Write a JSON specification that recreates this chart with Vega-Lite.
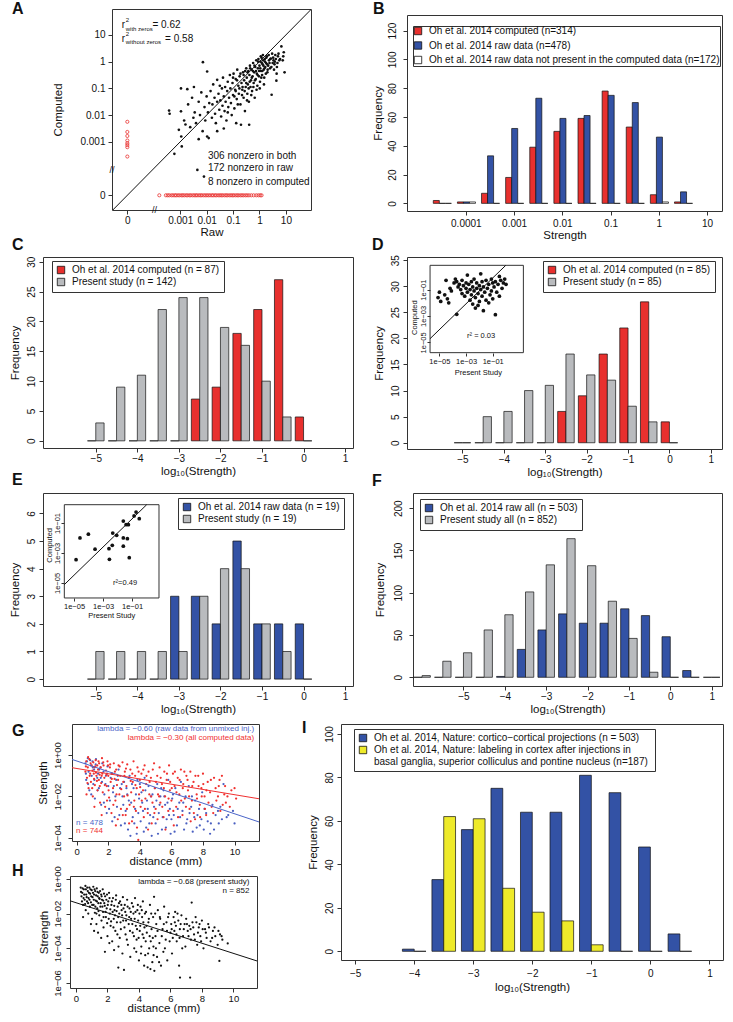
{
"$schema":"https://vega.github.io/schema/vega-lite/v6.json",
"background":"white",
"padding":{"left":0,"top":0,"right":5,"bottom":5},
"bounds":"flush",
"spacing":0,
"resolve":{"scale":{"color":"independent"},"legend":{"color":"independent"}},
"config":{
 "font":"Liberation Sans",
 "view":{"stroke":"#333","strokeWidth":1},
 "axis":{"domain":false,"grid":false,"tickColor":"#333","tickSize":4,"labelFontSize":10,"labelColor":"#111","labelPadding":1,"labelOverlap":false,"labelFlush":false,"titleFontSize":11.5,"titleFontWeight":"normal","titleColor":"#111"},
 "axisX":{"titlePadding":2},
 "axisY":{"labelAngle":270,"labelAlign":"center","labelBaseline":"bottom","labelPadding":3,"titlePadding":5},
 "title":{"fontSize":16,"fontWeight":"bold","anchor":"start","frame":"group","offset":0,"baseline":"alphabetic","color":"#111"},
 "legend":{"orient":"none","symbolType":"square","symbolSize":55,"symbolStrokeColor":"#111","symbolStrokeWidth":0.8,"labelFontSize":10,"labelColor":"#111","labelLimit":0,"rowPadding":0,"strokeColor":"#333","padding":4,"fillColor":"#fff","labelOffset":6}
},
"datasets":{
"aK":[{"x":-3.42,"y":-1.83},{"x":-3.4,"y":-1.95},{"x":-3.22,"y":-3.45},{"x":-3.05,"y":-2.55},{"x":-2.97,"y":-1.0},{"x":-2.97,"y":-1.86},{"x":-2.96,"y":-2.8},{"x":-2.94,"y":-3.17},{"x":-2.85,"y":-2.2},{"x":-2.8,"y":-2.35},{"x":-2.73,"y":-1.03},{"x":-2.7,"y":-1.6},{"x":-2.62,"y":-2.45},{"x":-2.55,"y":-1.35},{"x":-2.5,"y":-2.1},
{"x":-2.48,"y":-0.95},{"x":-2.45,"y":-1.9},{"x":-2.4,"y":-2.3},{"x":-2.35,"y":-4.05},{"x":-2.3,"y":-1.5},{"x":-2.25,"y":-2.0},{"x":-2.2,"y":-1.15},{"x":-2.15,"y":-2.6},{"x":-2.14,"y":-0.02},{"x":-2.1,"y":-4.3},{"x":-2.08,"y":-1.7},{"x":-2.05,"y":-2.2},{"x":-2.0,"y":-1.3},{"x":-1.98,"y":-0.37},{"x":-1.98,"y":-2.8},{"x":-1.95,"y":-1.9},{"x":-1.92,"y":-2.86},{"x":-1.9,"y":-1.55},{"x":-1.85,"y":-1.1},{"x":-1.8,"y":-2.1},{"x":-1.78,"y":-1.6},{"x":-1.75,"y":-0.85},{"x":-1.7,"y":-1.35},{"x":-1.68,"y":-1.95},{"x":-1.65,"y":-2.3},{"x":-1.6,"y":-0.68},{"x":-1.6,"y":-1.5},{"x":-1.55,"y":-1.2},{"x":-1.52,"y":-1.8},{"x":-1.5,"y":-0.9},
{"x":-1.48,"y":-1.45},{"x":-1.45,"y":-2.05},{"x":-1.42,"y":-1.0},{"x":-1.4,"y":-1.65},{"x":-1.38,"y":-0.6},{"x":-1.35,"y":-1.3},{"x":-1.32,"y":-1.85},{"x":-1.3,"y":-0.95},{"x":-1.28,"y":-1.5},{"x":-1.25,"y":-2.2},{"x":-1.22,"y":-1.1},{"x":-1.2,"y":-0.75},{"x":-1.18,"y":-1.7},{"x":-1.15,"y":-1.35},{"x":-1.12,"y":-0.5},{"x":-1.1,"y":-1.0},{"x":-1.08,"y":-1.55},{"x":-1.05,"y":-2.0},{"x":-1.02,"y":-0.8},{"x":-1.0,"y":-1.25},{"x":-0.98,"y":-0.45},{"x":-0.95,"y":-1.75},{"x":-0.92,"y":-1.05},{"x":-0.9,"y":-0.65},{"x":-0.88,"y":-2.3},{"x":-0.86,"y":-1.4},{"x":-0.84,"y":-0.3},{"x":-0.8,"y":-0.9},{"x":-0.78,"y":-1.2},{"x":-0.75,"y":-0.55},{"x":-0.72,"y":-1.6},{"x":-0.7,"y":-2.36},{"x":-0.68,"y":-0.8},{"x":-0.65,"y":-1.05},{"x":-0.62,"y":-0.4},{"x":-0.6,"y":-1.35},{"x":-0.58,"y":-0.7},{"x":-0.55,"y":-1.85},{"x":-0.52,"y":-0.95},{"x":-0.5,"y":-0.25},
{"x":-0.48,"y":-0.6},{"x":-0.46,"y":-1.2},{"x":-0.44,"y":-0.85},{"x":-0.42,"y":-0.35},{"x":-0.4,"y":-1.5},{"x":-0.39,"y":-2.36},{"x":-0.38,"y":-0.5},{"x":-0.36,"y":-0.15},{"x":-0.34,"y":-0.95},{"x":-0.32,"y":-0.7},{"x":-0.3,"y":-0.3},{"x":-0.28,"y":-1.1},{"x":-0.26,"y":-0.55},{"x":-0.24,"y":-0.05},{"x":-0.22,"y":-0.8},{"x":-0.2,"y":-0.4},{"x":-0.18,"y":-1.35},{"x":-0.16,"y":-0.2},{"x":-0.14,"y":-0.65},{"x":-0.12,"y":0.05},{"x":-0.1,"y":-0.45},{"x":-0.08,"y":-0.9},{"x":-0.06,"y":-0.25},{"x":-0.04,"y":0.1},{"x":-0.02,"y":-0.55},{"x":0.0,"y":-0.15},{"x":0.02,"y":-0.75},{"x":0.04,"y":0.0},{"x":0.06,"y":-0.35},{"x":0.08,"y":0.15},{"x":0.1,"y":-0.5},{"x":0.12,"y":-0.1},{"x":0.14,"y":0.05},{"x":0.16,"y":-0.3},{"x":0.18,"y":-0.6},{"x":0.2,"y":0.1},{"x":0.22,"y":-0.2},{"x":0.25,"y":-0.05},{"x":0.28,"y":0.2},{"x":0.3,"y":-0.4},{"x":0.33,"y":-0.15},{"x":0.36,"y":0.05},{"x":0.4,"y":-0.25},{"x":0.43,"y":0.12},{"x":0.46,"y":-1.24},
{"x":0.5,"y":-0.05},{"x":0.52,"y":0.15},{"x":0.55,"y":-0.3},{"x":0.58,"y":0.0},{"x":0.62,"y":0.1},{"x":0.64,"y":-0.71},{"x":0.66,"y":-0.2},{"x":0.7,"y":0.2},{"x":0.75,"y":0.05},{"x":0.83,"y":0.57},
{"x":-1.0,"y":-0.6},{"x":-0.95,"y":-1.3},{"x":-0.9,"y":-1.1},{"x":-0.85,"y":-0.7},{"x":-0.82,"y":-1.6},{"x":-0.76,"y":-1.0},{"x":-0.72,"y":-0.45},{"x":-0.66,"y":-1.25},{"x":-0.64,"y":-0.95},{"x":-0.6,"y":-0.5},{"x":-0.56,"y":-1.1},{"x":-0.54,"y":-0.35},{"x":-0.5,"y":-0.8},{"x":-0.47,"y":-1.45},{"x":-0.45,"y":-0.4},{"x":-0.41,"y":-1.0},{"x":-0.37,"y":-0.75},{"x":-0.35,"y":-0.25},{"x":-0.31,"y":-1.25},{"x":-0.29,"y":-0.6},{"x":-0.25,"y":-0.35},{"x":-0.23,"y":-0.95},{"x":-0.19,"y":-0.15},{"x":-0.17,"y":-0.7},{"x":-0.13,"y":-0.35},{"x":-0.11,"y":-1.05},{"x":-0.07,"y":-0.5},{"x":-0.05,"y":0.0},{"x":-0.01,"y":-0.35},{"x":0.01,"y":-1.0},{"x":0.03,"y":-0.25},{"x":0.05,"y":0.2},{"x":0.07,"y":-0.6},{"x":0.09,"y":-0.05},{"x":0.11,"y":-0.35},{"x":0.13,"y":0.25},{"x":0.15,"y":-0.15},{"x":0.17,"y":-0.85},{"x":0.19,"y":-0.25},{"x":0.21,"y":0.0},{"x":0.24,"y":-0.45},{"x":0.26,"y":0.15},{"x":0.29,"y":-0.1},{"x":0.31,"y":-0.3},{"x":0.35,"y":0.25},{"x":0.38,"y":-0.05},{"x":0.41,"y":0.1},{"x":0.45,"y":-0.2},{"x":0.48,"y":0.3},{"x":0.53,"y":0.05},{"x":0.57,"y":-0.1},{"x":0.6,"y":0.25},{"x":0.68,"y":-0.05},{"x":0.72,"y":0.3},{"x":0.78,"y":0.1},{"x":0.9,"y":0.2},{"x":0.92,"y":0.35},{"x":0.88,"y":0.05},{"x":0.95,"y":-0.4},{"x":0.65,"y":-0.45},{"x":-1.2,"y":-1.9},{"x":-1.35,"y":-2.5},{"x":-1.6,"y":-2.6},{"x":-2.3,"y":-2.9}],
"aR":[{"x":-3.79,"y":-5},{"x":-3.54,"y":-5},{"x":-3.47,"y":-5},{"x":-3.41,"y":-5},{"x":-3.33,"y":-5},{"x":-3.27,"y":-5},{"x":-3.2,"y":-5},{"x":-3.15,"y":-5},{"x":-3.08,"y":-5},{"x":-3.02,"y":-5},{"x":-2.95,"y":-5},{"x":-2.9,"y":-5},{"x":-2.84,"y":-5},{"x":-2.77,"y":-5},{"x":-2.72,"y":-5},{"x":-2.65,"y":-5},{"x":-2.6,"y":-5},{"x":-2.53,"y":-5},{"x":-2.47,"y":-5},{"x":-2.41,"y":-5},{"x":-2.36,"y":-5},{"x":-2.29,"y":-5},{"x":-2.23,"y":-5},{"x":-2.18,"y":-5},{"x":-2.11,"y":-5},{"x":-2.05,"y":-5},{"x":-1.99,"y":-5},{"x":-1.93,"y":-5},{"x":-1.87,"y":-5},{"x":-1.8,"y":-5},{"x":-1.75,"y":-5},{"x":-1.68,"y":-5},{"x":-1.63,"y":-5},{"x":-1.56,"y":-5},{"x":-1.5,"y":-5},{"x":-1.44,"y":-5},{"x":-1.39,"y":-5},{"x":-1.32,"y":-5},{"x":-1.26,"y":-5},{"x":-1.21,"y":-5},{"x":-1.14,"y":-5},{"x":-1.08,"y":-5},{"x":-1.02,"y":-5},{"x":-0.97,"y":-5},{"x":-0.9,"y":-5},{"x":-0.84,"y":-5},{"x":-0.79,"y":-5},{"x":-0.72,"y":-5},{"x":-0.66,"y":-5},{"x":-0.6,"y":-5},{"x":-0.53,"y":-5},{"x":-0.47,"y":-5},{"x":-0.4,"y":-5},{"x":-0.31,"y":-5},{"x":-0.22,"y":-5},{"x":-0.12,"y":-5},{"x":-0.04,"y":-5},{"x":0.03,"y":-5},{"x":0.08,"y":-5},
{"x":-5,"y":-2.25},{"x":-5,"y":-2.63},{"x":-5,"y":-2.78},{"x":-5,"y":-2.95},{"x":-5,"y":-3.05},{"x":-5,"y":-3.12},{"x":-5,"y":-3.2},{"x":-5,"y":-3.55}],
"bB":[{"l":-4.675,"h":-4.55,"v":2,"s":"c"},{"l":-4.55,"h":-4.425,"v":0,"s":"r"},{"l":-4.425,"h":-4.3,"v":0,"s":"w"},
{"l":-4.175,"h":-4.05,"v":1,"s":"c"},{"l":-4.05,"h":-3.925,"v":1,"s":"r"},{"l":-3.925,"h":-3.8,"v":1,"s":"w"},
{"l":-3.675,"h":-3.55,"v":7,"s":"c"},{"l":-3.55,"h":-3.425,"v":33,"s":"r"},{"l":-3.425,"h":-3.3,"v":0,"s":"w"},
{"l":-3.175,"h":-3.05,"v":18,"s":"c"},{"l":-3.05,"h":-2.925,"v":52,"s":"r"},{"l":-2.925,"h":-2.8,"v":0,"s":"w"},
{"l":-2.675,"h":-2.55,"v":39,"s":"c"},{"l":-2.55,"h":-2.425,"v":73,"s":"r"},{"l":-2.425,"h":-2.3,"v":0,"s":"w"},
{"l":-2.175,"h":-2.05,"v":50,"s":"c"},{"l":-2.05,"h":-1.925,"v":59,"s":"r"},{"l":-1.925,"h":-1.8,"v":0,"s":"w"},
{"l":-1.675,"h":-1.55,"v":59,"s":"c"},{"l":-1.55,"h":-1.425,"v":61,"s":"r"},{"l":-1.425,"h":-1.3,"v":0,"s":"w"},
{"l":-1.175,"h":-1.05,"v":78,"s":"c"},{"l":-1.05,"h":-0.925,"v":75,"s":"r"},{"l":-0.925,"h":-0.8,"v":0,"s":"w"},
{"l":-0.675,"h":-0.55,"v":53,"s":"c"},{"l":-0.55,"h":-0.425,"v":70,"s":"r"},{"l":-0.425,"h":-0.3,"v":0,"s":"w"},
{"l":-0.175,"h":-0.05,"v":6,"s":"c"},{"l":-0.05,"h":0.075,"v":46,"s":"r"},{"l":0.075,"h":0.2,"v":1,"s":"w"},
{"l":0.325,"h":0.45,"v":1,"s":"c"},{"l":0.45,"h":0.575,"v":8,"s":"r"},{"l":0.575,"h":0.7,"v":0,"s":"w"}],
"bC":[{"l":-5.2,"h":-5,"v":0,"s":"a"},{"l":-5,"h":-4.8,"v":3,"s":"b"},{"l":-4.7,"h":-4.5,"v":0,"s":"a"},{"l":-4.5,"h":-4.3,"v":9,"s":"b"},{"l":-4.2,"h":-4,"v":0,"s":"a"},{"l":-4,"h":-3.8,"v":11,"s":"b"},{"l":-3.7,"h":-3.5,"v":0,"s":"a"},{"l":-3.5,"h":-3.3,"v":22,"s":"b"},{"l":-3.2,"h":-3,"v":0,"s":"a"},{"l":-3,"h":-2.8,"v":24,"s":"b"},{"l":-2.7,"h":-2.5,"v":7,"s":"a"},{"l":-2.5,"h":-2.3,"v":24,"s":"b"},{"l":-2.2,"h":-2,"v":9,"s":"a"},{"l":-2,"h":-1.8,"v":19,"s":"b"},{"l":-1.7,"h":-1.5,"v":18,"s":"a"},{"l":-1.5,"h":-1.3,"v":16,"s":"b"},{"l":-1.2,"h":-1,"v":22,"s":"a"},{"l":-1,"h":-0.8,"v":10,"s":"b"},{"l":-0.7,"h":-0.5,"v":27,"s":"a"},{"l":-0.5,"h":-0.3,"v":4,"s":"b"},{"l":-0.2,"h":0,"v":4,"s":"a"},{"l":0,"h":0.2,"v":0,"s":"b"}],
"bD":[{"l":-5.2,"h":-5,"v":0,"s":"a"},{"l":-5,"h":-4.8,"v":0,"s":"b"},{"l":-4.7,"h":-4.5,"v":0,"s":"a"},{"l":-4.5,"h":-4.3,"v":5,"s":"b"},{"l":-4.2,"h":-4,"v":0,"s":"a"},{"l":-4,"h":-3.8,"v":6,"s":"b"},{"l":-3.7,"h":-3.5,"v":0,"s":"a"},{"l":-3.5,"h":-3.3,"v":10,"s":"b"},{"l":-3.2,"h":-3,"v":0,"s":"a"},{"l":-3,"h":-2.8,"v":11,"s":"b"},{"l":-2.7,"h":-2.5,"v":6,"s":"a"},{"l":-2.5,"h":-2.3,"v":17,"s":"b"},{"l":-2.2,"h":-2,"v":9,"s":"a"},{"l":-2,"h":-1.8,"v":13,"s":"b"},{"l":-1.7,"h":-1.5,"v":17,"s":"a"},{"l":-1.5,"h":-1.3,"v":12,"s":"b"},{"l":-1.2,"h":-1,"v":22,"s":"a"},{"l":-1,"h":-0.8,"v":7,"s":"b"},{"l":-0.7,"h":-0.5,"v":27,"s":"a"},{"l":-0.5,"h":-0.3,"v":4,"s":"b"},{"l":-0.2,"h":0,"v":4,"s":"a"},{"l":0,"h":0.2,"v":0,"s":"b"}],
"bE":[{"l":-5.2,"h":-5,"v":0,"s":"a"},{"l":-5,"h":-4.8,"v":1,"s":"b"},{"l":-4.7,"h":-4.5,"v":0,"s":"a"},{"l":-4.5,"h":-4.3,"v":1,"s":"b"},{"l":-4.2,"h":-4,"v":0,"s":"a"},{"l":-4,"h":-3.8,"v":1,"s":"b"},{"l":-3.7,"h":-3.5,"v":0,"s":"a"},{"l":-3.5,"h":-3.3,"v":1,"s":"b"},{"l":-3.2,"h":-3,"v":3,"s":"a"},{"l":-3,"h":-2.8,"v":1,"s":"b"},{"l":-2.7,"h":-2.5,"v":3,"s":"a"},{"l":-2.5,"h":-2.3,"v":3,"s":"b"},{"l":-2.2,"h":-2,"v":2,"s":"a"},{"l":-2,"h":-1.8,"v":4,"s":"b"},{"l":-1.7,"h":-1.5,"v":5,"s":"a"},{"l":-1.5,"h":-1.3,"v":4,"s":"b"},{"l":-1.2,"h":-1,"v":2,"s":"a"},{"l":-1,"h":-0.8,"v":2,"s":"b"},{"l":-0.7,"h":-0.5,"v":2,"s":"a"},{"l":-0.5,"h":-0.3,"v":1,"s":"b"},{"l":-0.2,"h":0,"v":2,"s":"a"},{"l":0,"h":0.2,"v":0,"s":"b"}],
"bF":[{"l":-6.2,"h":-6,"v":0,"s":"a"},{"l":-6,"h":-5.8,"v":2,"s":"b"},{"l":-5.7,"h":-5.5,"v":0,"s":"a"},{"l":-5.5,"h":-5.3,"v":19,"s":"b"},{"l":-5.2,"h":-5,"v":0,"s":"a"},{"l":-5,"h":-4.8,"v":29,"s":"b"},{"l":-4.7,"h":-4.5,"v":0,"s":"a"},{"l":-4.5,"h":-4.3,"v":56,"s":"b"},{"l":-4.2,"h":-4,"v":1,"s":"a"},{"l":-4,"h":-3.8,"v":74,"s":"b"},{"l":-3.7,"h":-3.5,"v":33,"s":"a"},{"l":-3.5,"h":-3.3,"v":101,"s":"b"},{"l":-3.2,"h":-3,"v":56,"s":"a"},{"l":-3,"h":-2.8,"v":133,"s":"b"},{"l":-2.7,"h":-2.5,"v":75,"s":"a"},{"l":-2.5,"h":-2.3,"v":164,"s":"b"},{"l":-2.2,"h":-2,"v":64,"s":"a"},{"l":-2,"h":-1.8,"v":132,"s":"b"},{"l":-1.7,"h":-1.5,"v":64,"s":"a"},{"l":-1.5,"h":-1.3,"v":90,"s":"b"},{"l":-1.2,"h":-1,"v":81,"s":"a"},{"l":-1,"h":-0.8,"v":46,"s":"b"},{"l":-0.7,"h":-0.5,"v":73,"s":"a"},{"l":-0.5,"h":-0.3,"v":6,"s":"b"},{"l":-0.2,"h":0,"v":48,"s":"a"},{"l":0,"h":0.2,"v":0,"s":"b"},{"l":0.3,"h":0.5,"v":8,"s":"a"},{"l":0.5,"h":0.7,"v":0,"s":"b"},{"l":0.8,"h":1,"v":0,"s":"a"},{"l":1,"h":1.2,"v":0,"s":"b"}],
"bI":[{"l":-4.2,"h":-4,"v":1,"s":"a"},{"l":-4,"h":-3.8,"v":0,"s":"b"},{"l":-3.7,"h":-3.5,"v":33,"s":"a"},{"l":-3.5,"h":-3.3,"v":62,"s":"b"},{"l":-3.2,"h":-3,"v":56,"s":"a"},{"l":-3,"h":-2.8,"v":61,"s":"b"},{"l":-2.7,"h":-2.5,"v":75,"s":"a"},{"l":-2.5,"h":-2.3,"v":29,"s":"b"},{"l":-2.2,"h":-2,"v":64,"s":"a"},{"l":-2,"h":-1.8,"v":18,"s":"b"},{"l":-1.7,"h":-1.5,"v":64,"s":"a"},{"l":-1.5,"h":-1.3,"v":14,"s":"b"},{"l":-1.2,"h":-1,"v":81,"s":"a"},{"l":-1,"h":-0.8,"v":3,"s":"b"},{"l":-0.7,"h":-0.5,"v":73,"s":"a"},{"l":-0.5,"h":-0.3,"v":0,"s":"b"},{"l":-0.2,"h":0,"v":48,"s":"a"},{"l":0,"h":0.2,"v":0,"s":"b"},{"l":0.3,"h":0.5,"v":8,"s":"a"},{"l":0.5,"h":0.7,"v":0,"s":"b"}],
"dI":[{"x":-5.0,"y":-1.2},{"x":-5.1,"y":-1.6},{"x":-4.9,"y":-1.9},{"x":-4.6,"y":-1.4},{"x":-4.4,"y":-1.7},{"x":-4.5,"y":-0.3},{"x":-4.2,"y":-0.9},{"x":-4.1,"y":-1.1},{"x":-4.3,"y":-2.0},{"x":-3.9,"y":-0.5},{"x":-3.8,"y":-0.2},{"x":-3.7,"y":-0.4},{"x":-3.6,"y":-0.8},{"x":-3.5,"y":-0.6},{"x":-3.4,"y":-1.0},{"x":-3.3,"y":-0.3},{"x":-3.3,"y":-1.3},{"x":-3.2,"y":-0.7},{"x":-3.1,"y":-1.5},{"x":-3.0,"y":-0.5},{"x":-3.0,"y":-0.9},{"x":-2.9,"y":-1.2},{"x":-2.9,"y":0.1},{"x":-2.8,"y":-0.6},{"x":-2.7,"y":-1.0},{"x":-2.7,"y":-1.8},{"x":-2.6,"y":-0.4},{"x":-2.6,"y":-1.4},{"x":-2.5,"y":-0.8},{"x":-2.5,"y":-2.1},{"x":-2.4,"y":-1.1},{"x":-2.4,"y":-0.2},{"x":-2.3,"y":-1.6},{"x":-2.3,"y":-2.4},{"x":-2.2,"y":-0.9},{"x":-2.2,"y":-0.5},{"x":-2.1,"y":-1.3},{"x":-2.1,"y":-2.2},{"x":-2.0,"y":-0.7},{"x":-2.0,"y":-1.9},{"x":-1.9,"y":0.2},{"x":-1.9,"y":-1.0},{"x":-1.8,"y":-0.4},{"x":-1.8,"y":-1.5},{"x":-1.7,"y":-2.6},{"x":-1.7,"y":-0.8},{"x":-1.6,"y":-1.2},{"x":-1.5,"y":-0.3},{"x":-1.5,"y":-1.8},{"x":-1.4,"y":-0.9},{"x":-1.3,"y":-0.6},{"x":-1.3,"y":-2.0},{"x":-1.2,"y":-1.4},{"x":-1.1,"y":-0.2},{"x":-1.1,"y":-1.1},{"x":-1.0,"y":-0.5},{"x":-1.0,"y":-1.7},{"x":-0.9,"y":-0.8},{"x":-0.8,"y":-2.9},{"x":-0.8,"y":-0.4},{"x":-0.7,"y":-1.2},{"x":-0.6,"y":-0.6},{"x":-0.5,"y":0.0},{"x":-0.5,"y":-1.5},{"x":-0.4,"y":-0.3},{"x":-0.3,"y":-0.9},{"x":-0.2,"y":-0.5},{"x":-0.1,"y":-0.2},{"x":0.0,"y":-0.6},{"x":-3.7,"y":-2.87}],
"eI":[{"x":-4.86,"y":-3.45},{"x":-4.59,"y":-2.0},{"x":-4.01,"y":-1.75},{"x":-3.55,"y":-2.75},{"x":-2.59,"y":-2.71},{"x":-2.56,"y":-3.42},{"x":-2.36,"y":-2.49},{"x":-2.33,"y":-1.67},{"x":-2.06,"y":-1.82},{"x":-1.6,"y":-0.87},{"x":-1.6,"y":-2.0},{"x":-1.6,"y":-2.55},{"x":-1.41,"y":-1.11},{"x":-1.25,"y":-1.11},{"x":-1.32,"y":-2.05},{"x":-1.19,"y":-3.31},{"x":-0.86,"y":-0.53},{"x":-0.72,"y":-0.27},{"x":-0.5,"y":-0.71}],
"gR":[{"x":0.6,"y":-0.3},{"x":0.65,"y":-1.1},{"x":0.7,"y":-0.6},{"x":0.75,"y":-1.6},{"x":0.8,"y":-0.2},{"x":0.85,"y":-0.9},{"x":0.9,"y":-1.3},{"x":0.95,"y":-0.5},{"x":1.0,"y":-0.75},{"x":1.02,"y":-2.0},{"x":1.05,"y":-0.35},{"x":1.1,"y":-1.15},{"x":1.12,"y":-0.6},{"x":1.15,"y":-1.45},{"x":1.2,"y":-0.25},{"x":1.22,"y":-0.85},{"x":1.25,"y":-1.0},{"x":1.3,"y":-0.5},{"x":1.32,"y":-1.7},{"x":1.35,"y":-0.7},{"x":1.4,"y":-1.2},{"x":1.42,"y":-0.4},{"x":1.45,"y":-0.95},{"x":1.48,"y":-2.3},{"x":0.55,"y":-0.8},
{"x":1.52,"y":-0.6},{"x":1.55,"y":-1.35},{"x":1.6,"y":-0.15},{"x":1.62,"y":-0.9},{"x":1.65,"y":-1.8},{"x":1.7,"y":-0.5},{"x":1.75,"y":-1.1},{"x":1.8,"y":-2.5},{"x":1.85,"y":-0.75},{"x":1.9,"y":-1.5},{"x":1.95,"y":-0.3},{"x":2.0,"y":-1.0},{"x":2.05,"y":-2.05},{"x":2.1,"y":-0.6},{"x":2.15,"y":-1.3},{"x":2.2,"y":-2.8},{"x":2.25,"y":-0.9},{"x":2.3,"y":-1.6},{"x":2.35,"y":-0.4},{"x":2.4,"y":-1.15},{"x":2.45,"y":-2.2},{"x":2.5,"y":-0.7},{"x":2.55,"y":-1.45},{"x":2.6,"y":-3.1},{"x":2.65,"y":-0.5},{"x":2.7,"y":-1.9},{"x":2.75,"y":-1.0},{"x":2.8,"y":-2.6},{"x":2.9,"y":-0.35},{"x":2.95,"y":-1.3},
{"x":3.0,"y":-2.0},{"x":3.05,"y":-0.8},{"x":3.1,"y":-2.9},{"x":3.15,"y":-1.5},{"x":3.2,"y":-0.45},{"x":3.3,"y":-1.1},{"x":3.35,"y":-2.4},{"x":3.4,"y":-0.7},{"x":3.45,"y":-1.8},{"x":3.5,"y":-3.2},{"x":3.55,"y":-1.3},{"x":3.6,"y":-0.3},{"x":3.65,"y":-2.2},{"x":3.7,"y":-1.0},{"x":3.75,"y":-2.7},{"x":3.8,"y":-1.6},{"x":3.85,"y":-0.6},{"x":3.9,"y":-4.1},{"x":3.95,"y":-1.9},{"x":4.0,"y":-1.2},{"x":4.05,"y":-2.5},{"x":4.1,"y":-0.9},{"x":4.2,"y":-1.7},{"x":4.25,"y":-3.0},{"x":4.3,"y":-0.5},{"x":4.35,"y":-2.1},{"x":4.4,"y":-1.4},{"x":4.5,"y":-2.8},{"x":4.55,"y":-0.8},{"x":4.6,"y":-1.9},{"x":4.7,"y":-1.1},{"x":4.75,"y":-3.3},{"x":4.8,"y":-2.3},{"x":4.9,"y":-0.4},{"x":4.95,"y":-1.6},
{"x":5.0,"y":-2.6},{"x":5.1,"y":-1.0},{"x":5.15,"y":-1.9},{"x":5.25,"y":-0.6},{"x":5.3,"y":-2.3},{"x":5.4,"y":-1.4},{"x":5.5,"y":-3.0},{"x":5.55,"y":-0.8},{"x":5.6,"y":-2.0},{"x":5.7,"y":-1.2},{"x":5.8,"y":-2.7},{"x":5.85,"y":-0.5},{"x":5.9,"y":-1.7},{"x":6.0,"y":-2.2},{"x":6.1,"y":-0.9},{"x":6.15,"y":-3.4},{"x":6.2,"y":-1.5},{"x":6.3,"y":-2.5},{"x":6.4,"y":-1.1},{"x":6.5,"y":-1.9},{"x":6.6,"y":-0.7},{"x":6.7,"y":-2.9},{"x":6.75,"y":-1.4},{"x":6.85,"y":-2.1},{"x":6.95,"y":-1.0},
{"x":7.05,"y":-1.7},{"x":7.15,"y":-2.6},{"x":7.2,"y":-0.8},{"x":7.3,"y":-2.2},{"x":7.4,"y":-1.3},{"x":7.5,"y":-3.1},{"x":7.6,"y":-1.9},{"x":7.7,"y":-1.0},{"x":7.8,"y":-2.4},{"x":7.9,"y":-1.6},{"x":8.0,"y":-0.9},{"x":8.1,"y":-2.0},{"x":8.2,"y":-2.9},{"x":8.3,"y":-1.3},{"x":8.45,"y":-1.8},{"x":8.55,"y":-2.5},{"x":8.7,"y":-1.1},{"x":8.85,"y":-2.2},{"x":9.0,"y":-1.5},{"x":9.1,"y":-2.7},{"x":9.2,"y":-1.0},{"x":9.35,"y":-1.9},{"x":9.45,"y":-2.3},{"x":9.8,"y":-1.7},{"x":10.1,"y":-2.1},
{"x":0.58,"y":-0.55},{"x":0.68,"y":-1.35},{"x":0.72,"y":-0.1},{"x":0.82,"y":-1.0},{"x":0.88,"y":-0.4},{"x":0.98,"y":-1.6},{"x":1.08,"y":-0.9},{"x":1.18,"y":-0.55},{"x":1.28,"y":-1.25},{"x":1.38,"y":-0.3},{"x":1.46,"y":-1.5},{"x":1.58,"y":-1.0},{"x":1.68,"y":-0.35},{"x":1.78,"y":-1.45},{"x":1.88,"y":-0.95},{"x":1.98,"y":-0.5},{"x":0.62,"y":-1.9},{"x":1.12,"y":-2.5},{"x":1.58,"y":-2.9},{"x":1.92,"y":-2.2},
{"x":2.02,"y":-1.7},{"x":2.12,"y":-0.45},{"x":2.22,"y":-1.15},{"x":2.32,"y":-2.4},{"x":2.42,"y":-0.8},{"x":2.52,"y":-1.9},{"x":2.62,"y":-1.2},{"x":2.72,"y":-0.55},{"x":2.82,"y":-1.65},{"x":2.92,"y":-2.9},{"x":3.02,"y":-1.0},{"x":3.12,"y":-0.65},{"x":3.22,"y":-1.95},{"x":3.32,"y":-3.3},{"x":3.42,"y":-1.25},{"x":3.52,"y":-0.9},{"x":3.62,"y":-2.5},{"x":3.72,"y":-1.45},{"x":3.82,"y":-3.5},{"x":3.92,"y":-0.8},{"x":2.48,"y":-3.4},{"x":3.18,"y":-2.6},
{"x":4.02,"y":-1.55},{"x":4.12,"y":-2.2},{"x":4.22,"y":-0.7},{"x":4.32,"y":-2.6},{"x":4.42,"y":-1.0},{"x":4.52,"y":-3.6},{"x":4.62,"y":-1.3},{"x":4.72,"y":-2.0},{"x":4.82,"y":-0.7},{"x":4.92,"y":-2.8},{"x":5.02,"y":-1.3},{"x":5.12,"y":-3.1},{"x":5.22,"y":-2.0},{"x":5.32,"y":-1.1},{"x":5.42,"y":-2.5},{"x":5.52,"y":-1.6},{"x":5.62,"y":-3.6},{"x":5.72,"y":-0.9},{"x":5.82,"y":-2.1},{"x":5.92,"y":-1.3},
{"x":6.02,"y":-1.6},{"x":6.12,"y":-2.7},{"x":6.22,"y":-0.8},{"x":6.32,"y":-1.8},{"x":6.42,"y":-3.0},{"x":6.52,"y":-1.2},{"x":6.62,"y":-2.2},{"x":6.72,"y":-1.6},{"x":6.82,"y":-0.8},{"x":6.92,"y":-2.5},{"x":7.02,"y":-1.2},{"x":7.12,"y":-2.0},{"x":7.22,"y":-3.2},{"x":7.32,"y":-1.5},{"x":7.42,"y":-2.8},{"x":7.52,"y":-1.0},{"x":7.62,"y":-2.1},{"x":7.72,"y":-1.5},{"x":7.82,"y":-3.0},{"x":7.92,"y":-2.0},{"x":8.02,"y":-1.4},{"x":8.12,"y":-2.6},{"x":8.22,"y":-1.7},{"x":8.35,"y":-2.3},{"x":8.5,"y":-1.2},{"x":8.65,"y":-2.8},{"x":8.8,"y":-1.6},{"x":8.95,"y":-2.0},{"x":9.05,"y":-1.2},{"x":9.25,"y":-2.4},{"x":9.4,"y":-1.5},{"x":9.55,"y":-2.0},{"x":9.7,"y":-2.5},{"x":10.0,"y":-1.6}],
"gB":[{"x":0.55,"y":-0.4},{"x":0.6,"y":-1.2},{"x":0.7,"y":-0.15},{"x":0.75,"y":-0.8},{"x":0.8,"y":-1.7},{"x":0.9,"y":-0.5},{"x":0.95,"y":-1.0},{"x":1.0,"y":-0.3},{"x":1.05,"y":-1.4},{"x":1.1,"y":-0.7},{"x":1.15,"y":-2.1},{"x":1.2,"y":-0.45},{"x":1.3,"y":-1.1},{"x":1.35,"y":-0.9},{"x":1.4,"y":-1.6},{"x":1.5,"y":-0.6},{"x":1.55,"y":-2.4},{"x":1.6,"y":-1.3},{"x":1.7,"y":-0.8},{"x":1.75,"y":-1.9},{"x":1.85,"y":-1.0},{"x":1.9,"y":-2.8},{"x":1.95,"y":-0.55},
{"x":2.0,"y":-1.5},{"x":2.1,"y":-2.2},{"x":2.2,"y":-0.9},{"x":2.3,"y":-1.8},{"x":2.4,"y":-3.0},{"x":2.5,"y":-1.2},{"x":2.55,"y":-2.5},{"x":2.65,"y":-0.7},{"x":2.75,"y":-1.6},{"x":2.8,"y":-3.4},{"x":2.9,"y":-2.0},{"x":3.0,"y":-1.3},{"x":3.1,"y":-2.7},{"x":3.2,"y":-1.9},{"x":3.25,"y":-3.6},{"x":3.35,"y":-1.0},{"x":3.45,"y":-2.3},{"x":3.55,"y":-3.0},{"x":3.6,"y":-1.6},{"x":3.7,"y":-2.6},{"x":3.8,"y":-3.8},{"x":3.85,"y":-1.2},{"x":3.95,"y":-2.1},
{"x":4.05,"y":-3.2},{"x":4.1,"y":-1.8},{"x":4.2,"y":-2.7},{"x":4.3,"y":-1.1},{"x":4.4,"y":-3.5},{"x":4.45,"y":-2.2},{"x":4.55,"y":-1.5},{"x":4.65,"y":-2.9},{"x":4.75,"y":-3.9},{"x":4.8,"y":-1.9},{"x":4.9,"y":-2.5},{"x":5.0,"y":-3.3},{"x":5.1,"y":-1.4},{"x":5.2,"y":-2.8},{"x":5.3,"y":-2.0},{"x":5.4,"y":-3.6},{"x":5.5,"y":-1.7},{"x":5.6,"y":-2.4},{"x":5.7,"y":-3.1},{"x":5.8,"y":-1.2},{"x":5.9,"y":-2.6},{"x":5.95,"y":-3.8},
{"x":6.05,"y":-2.1},{"x":6.15,"y":-2.9},{"x":6.25,"y":-1.6},{"x":6.35,"y":-3.4},{"x":6.5,"y":-2.3},{"x":6.6,"y":-1.3},{"x":6.7,"y":-2.7},{"x":6.8,"y":-3.6},{"x":6.9,"y":-2.0},{"x":7.0,"y":-3.1},{"x":7.1,"y":-1.5},{"x":7.25,"y":-2.5},{"x":7.35,"y":-3.7},{"x":7.5,"y":-2.2},{"x":7.65,"y":-2.9},{"x":7.8,"y":-3.4},{"x":7.95,"y":-1.8},{"x":8.1,"y":-2.6},{"x":8.3,"y":-3.2},{"x":8.45,"y":-3.8},{"x":8.6,"y":-2.4},{"x":8.8,"y":-2.9},{"x":9.0,"y":-3.3},{"x":9.1,"y":-2.5},{"x":9.3,"y":-1.4},{"x":9.5,"y":-3.0},{"x":10.0,"y":-3.3},{"x":9.9,"y":-2.7},
{"x":0.58,"y":-0.9},{"x":0.65,"y":-0.3},{"x":0.72,"y":-1.4},{"x":0.85,"y":-0.25},{"x":0.92,"y":-1.9},{"x":1.02,"y":-0.6},{"x":1.12,"y":-1.2},{"x":1.22,"y":-0.2},{"x":1.32,"y":-1.7},{"x":1.42,"y":-0.7},{"x":1.52,"y":-1.1},{"x":1.62,"y":-0.4},{"x":1.72,"y":-2.3},{"x":1.82,"y":-1.4},{"x":1.92,"y":-0.9},
{"x":2.05,"y":-2.6},{"x":2.15,"y":-1.1},{"x":2.25,"y":-3.2},{"x":2.35,"y":-1.5},{"x":2.45,"y":-2.0},{"x":2.6,"y":-1.0},{"x":2.7,"y":-2.9},{"x":2.85,"y":-1.4},{"x":2.95,"y":-2.4},{"x":3.05,"y":-3.3},{"x":3.15,"y":-1.6},{"x":3.3,"y":-2.2},{"x":3.4,"y":-3.9},{"x":3.5,"y":-1.4},{"x":3.65,"y":-3.3},{"x":3.75,"y":-1.9},{"x":3.9,"y":-2.8},
{"x":4.0,"y":-1.4},{"x":4.15,"y":-2.3},{"x":4.25,"y":-3.7},{"x":4.35,"y":-1.7},{"x":4.5,"y":-2.6},{"x":4.6,"y":-3.3},{"x":4.7,"y":-2.0},{"x":4.85,"y":-3.0},{"x":4.95,"y":-1.6},{"x":5.05,"y":-2.2},{"x":5.15,"y":-3.8},{"x":5.25,"y":-2.4},{"x":5.35,"y":-1.6},{"x":5.45,"y":-3.0},{"x":5.55,"y":-2.0},{"x":5.65,"y":-3.5},{"x":5.75,"y":-2.3},{"x":5.85,"y":-2.9},
{"x":6.0,"y":-3.1},{"x":6.1,"y":-1.9},{"x":6.2,"y":-3.7},{"x":6.4,"y":-2.6},{"x":6.55,"y":-3.0},{"x":6.75,"y":-2.3},{"x":6.95,"y":-3.3},{"x":7.15,"y":-2.8},{"x":7.3,"y":-2.0},{"x":7.45,"y":-3.0},{"x":7.6,"y":-3.5},{"x":7.75,"y":-2.6},{"x":7.9,"y":-3.1},{"x":8.05,"y":-3.6},{"x":8.2,"y":-2.8},{"x":8.5,"y":-3.3},{"x":8.7,"y":-3.6},{"x":8.95,"y":-2.7},{"x":9.2,"y":-3.1},{"x":9.6,"y":-2.9}],
"hK":[{"x":0.3,"y":-0.5},{"x":0.35,"y":-1.0},{"x":0.4,"y":-0.8},{"x":0.45,"y":-1.5},{"x":0.5,"y":-0.6},{"x":0.55,"y":-1.2},{"x":0.6,"y":-0.4},{"x":0.62,"y":-1.8},{"x":0.65,"y":-0.9},{"x":0.7,"y":-1.3},{"x":0.75,"y":-0.7},{"x":0.78,"y":-2.0},{"x":0.8,"y":-1.1},{"x":0.85,"y":-0.5},{"x":0.88,"y":-1.6},{"x":0.9,"y":-0.85},{"x":0.95,"y":-1.35},{"x":1.0,"y":-0.65},{"x":1.02,"y":-2.3},{"x":1.05,"y":-1.05},{"x":1.1,"y":-0.45},{"x":1.12,"y":-1.5},{"x":1.15,"y":-0.9},{"x":1.2,"y":-1.95},{"x":1.22,"y":-0.7},{"x":1.25,"y":-1.25},{"x":1.3,"y":-2.6},{"x":1.32,"y":-0.55},{"x":1.35,"y":-1.7},{"x":1.38,"y":-1.0},{"x":1.4,"y":-3.1},{"x":1.42,"y":-1.4},{"x":1.45,"y":-0.8},{"x":1.48,"y":-2.1},{"x":1.5,"y":-1.15},
{"x":1.55,"y":-1.6},{"x":1.6,"y":-0.9},{"x":1.62,"y":-2.4},{"x":1.65,"y":-1.2},{"x":1.7,"y":-0.6},{"x":1.72,"y":-1.9},{"x":1.75,"y":-2.8},{"x":1.8,"y":-1.4},{"x":1.84,"y":-4.2},{"x":1.85,"y":-1.0},{"x":1.9,"y":-2.2},{"x":1.95,"y":-1.7},{"x":2.0,"y":-3.3},{"x":2.05,"y":-1.3},{"x":2.1,"y":-0.8},{"x":2.15,"y":-2.0},{"x":2.2,"y":-2.7},{"x":2.25,"y":-1.5},{"x":2.3,"y":-3.6},{"x":2.35,"y":-1.1},{"x":2.4,"y":-2.3},{"x":2.45,"y":-1.8},{"x":2.5,"y":-3.0},{"x":2.55,"y":-0.95},{"x":2.6,"y":-2.5},{"x":2.65,"y":-1.6},{"x":2.69,"y":-5.11},{"x":2.7,"y":-3.9},{"x":2.75,"y":-2.0},{"x":2.8,"y":-1.3},{"x":2.85,"y":-2.9},{"x":2.9,"y":-1.8},{"x":2.95,"y":-4.3},{"x":3.0,"y":-2.4},{"x":3.05,"y":-5.25},{"x":2.98,"y":-1.05},{"x":2.78,"y":-3.4},{"x":2.42,"y":-4.1},{"x":2.12,"y":-3.7},{"x":1.98,"y":-2.55},
{"x":3.1,"y":-1.5},{"x":3.15,"y":-3.2},{"x":3.2,"y":-2.1},{"x":3.25,"y":-1.2},{"x":3.3,"y":-3.8},{"x":3.35,"y":-2.6},{"x":3.4,"y":-1.7},{"x":3.45,"y":-4.5},{"x":3.5,"y":-2.3},{"x":3.55,"y":-1.4},{"x":3.6,"y":-3.1},{"x":3.65,"y":-2.0},{"x":3.7,"y":-4.0},{"x":3.75,"y":-1.1},{"x":3.8,"y":-2.7},{"x":3.85,"y":-3.5},{"x":3.9,"y":-1.8},{"x":3.95,"y":-2.4},{"x":4.0,"y":-4.7},{"x":4.05,"y":-3.0},{"x":4.1,"y":-1.6},{"x":4.15,"y":-3.9},{"x":4.2,"y":-2.2},{"x":4.25,"y":-1.3},{"x":4.3,"y":-3.4},{"x":4.35,"y":-2.8},{"x":4.4,"y":-4.4},{"x":4.45,"y":-1.9},{"x":4.5,"y":-3.1},{"x":4.55,"y":-5.1},{"x":4.6,"y":-2.5},{"x":4.65,"y":-4.0},{"x":4.7,"y":-1.5},{"x":4.75,"y":-3.6},{"x":4.8,"y":-2.9},{"x":4.85,"y":-4.8},{"x":4.9,"y":-2.2},{"x":4.96,"y":-1.03},{"x":4.98,"y":-5.3},{"x":4.92,"y":-3.9},
{"x":5.05,"y":-3.3},{"x":5.1,"y":-2.6},{"x":5.15,"y":-4.5},{"x":5.2,"y":-1.8},{"x":5.3,"y":-3.7},{"x":5.35,"y":-2.3},{"x":5.4,"y":-5.0},{"x":5.5,"y":-2.9},{"x":5.55,"y":-4.2},{"x":5.6,"y":-1.6},{"x":5.7,"y":-3.5},{"x":5.75,"y":-2.5},{"x":5.8,"y":-4.7},{"x":5.9,"y":-2.0},{"x":6.0,"y":-3.1},{"x":6.05,"y":-2.6},{"x":6.1,"y":-4.3},{"x":6.2,"y":-2.2},{"x":6.25,"y":-3.0},{"x":6.3,"y":-1.9},{"x":6.35,"y":-2.7},{"x":6.4,"y":-3.6},{"x":6.5,"y":-2.4},{"x":6.55,"y":-5.0},{"x":6.6,"y":-2.9},{"x":6.61,"y":-5.69},{"x":6.7,"y":-2.1},{"x":6.8,"y":-3.3},{"x":6.9,"y":-2.6},{"x":6.95,"y":-3.9},
{"x":7.0,"y":-2.3},{"x":7.1,"y":-3.0},{"x":7.2,"y":-2.7},{"x":7.25,"y":-5.69},{"x":7.3,"y":-3.5},{"x":7.35,"y":-1.36},{"x":7.4,"y":-2.5},{"x":7.5,"y":-3.2},{"x":7.6,"y":-2.2},{"x":7.7,"y":-3.8},{"x":7.8,"y":-2.8},{"x":7.9,"y":-3.3},{"x":8.0,"y":-2.4},{"x":8.1,"y":-4.0},{"x":8.2,"y":-2.9},{"x":8.3,"y":-3.4},{"x":8.4,"y":-2.6},{"x":8.55,"y":-3.6},{"x":8.7,"y":-3.0},{"x":8.85,"y":-3.3},{"x":9.0,"y":-3.8},{"x":9.11,"y":-4.73},{"x":9.15,"y":-3.2},{"x":9.3,"y":-3.5},{"x":9.64,"y":-3.72},
{"x":0.32,"y":-0.75},{"x":0.38,"y":-1.3},{"x":0.42,"y":-0.55},{"x":0.48,"y":-1.1},{"x":0.52,"y":-0.9},{"x":0.58,"y":-1.45},{"x":0.63,"y":-0.6},{"x":0.68,"y":-1.05},{"x":0.72,"y":-0.5},{"x":0.77,"y":-1.4},{"x":0.82,"y":-0.8},{"x":0.86,"y":-1.2},{"x":0.92,"y":-0.6},{"x":0.97,"y":-1.0},{"x":1.03,"y":-1.5},{"x":1.08,"y":-0.8},{"x":1.13,"y":-1.2},{"x":1.18,"y":-0.6},{"x":1.23,"y":-1.6},{"x":1.28,"y":-0.95},{"x":1.33,"y":-1.3},{"x":1.37,"y":-0.75},{"x":1.43,"y":-1.85},{"x":1.47,"y":-1.1},{"x":1.53,"y":-0.7},{"x":1.57,"y":-1.4},{"x":1.63,"y":-1.0},{"x":1.68,"y":-1.6},{"x":1.73,"y":-1.25},{"x":1.78,"y":-0.85},{"x":1.83,"y":-1.55},{"x":1.88,"y":-1.9},{"x":1.93,"y":-1.2},{"x":1.97,"y":-0.9},{"x":0.45,"y":-2.2},{"x":0.95,"y":-2.6},{"x":1.15,"y":-3.0},{"x":1.6,"y":-3.4},{"x":1.75,"y":-2.2},{"x":1.3,"y":-2.0},
{"x":2.02,"y":-1.5},{"x":2.08,"y":-2.3},{"x":2.13,"y":-1.1},{"x":2.18,"y":-1.75},{"x":2.23,"y":-2.45},{"x":2.28,"y":-1.3},{"x":2.33,"y":-1.9},{"x":2.38,"y":-2.8},{"x":2.43,"y":-1.55},{"x":2.48,"y":-2.1},{"x":2.53,"y":-1.2},{"x":2.58,"y":-1.85},{"x":2.63,"y":-3.2},{"x":2.68,"y":-2.2},{"x":2.73,"y":-1.4},{"x":2.83,"y":-2.5},{"x":2.88,"y":-1.5},{"x":2.93,"y":-2.1},{"x":3.02,"y":-1.7},{"x":3.08,"y":-2.8},{"x":3.13,"y":-1.9},{"x":3.18,"y":-2.4},{"x":3.23,"y":-3.5},{"x":3.28,"y":-1.6},{"x":3.38,"y":-2.2},{"x":3.43,"y":-3.0},{"x":3.48,"y":-1.9},{"x":3.58,"y":-2.6},{"x":3.63,"y":-1.6},{"x":3.68,"y":-3.3},{"x":3.73,"y":-2.3},{"x":3.78,"y":-1.9},{"x":3.83,"y":-4.2},{"x":3.88,"y":-2.9},{"x":3.93,"y":-1.5},{"x":3.98,"y":-3.4},
{"x":4.03,"y":-2.0},{"x":4.08,"y":-2.7},{"x":4.13,"y":-4.3},{"x":4.18,"y":-1.8},{"x":4.23,"y":-3.2},{"x":4.28,"y":-2.5},{"x":4.33,"y":-5.0},{"x":4.38,"y":-2.0},{"x":4.43,"y":-3.6},{"x":4.48,"y":-2.7},{"x":4.58,"y":-4.3},{"x":4.63,"y":-2.3},{"x":4.68,"y":-3.3},{"x":4.73,"y":-5.2},{"x":4.78,"y":-2.0},{"x":4.88,"y":-3.4},{"x":4.93,"y":-4.4},{"x":5.03,"y":-2.0},{"x":5.08,"y":-4.0},{"x":5.18,"y":-3.0},{"x":5.28,"y":-4.8},{"x":5.33,"y":-2.2},{"x":5.45,"y":-3.3},{"x":5.58,"y":-2.6},{"x":5.65,"y":-4.0},{"x":5.78,"y":-3.0},{"x":5.85,"y":-2.2},{"x":5.95,"y":-3.6},
{"x":6.08,"y":-2.9},{"x":6.15,"y":-3.4},{"x":6.28,"y":-2.5},{"x":6.38,"y":-3.2},{"x":6.45,"y":-2.0},{"x":6.58,"y":-3.4},{"x":6.65,"y":-2.6},{"x":6.75,"y":-4.0},{"x":6.85,"y":-2.9},{"x":7.05,"y":-2.6},{"x":7.15,"y":-3.3},{"x":7.28,"y":-2.9},{"x":7.45,"y":-2.8},{"x":7.55,"y":-3.5},{"x":7.65,"y":-2.5},{"x":7.75,"y":-3.1},{"x":7.85,"y":-2.6},{"x":7.95,"y":-3.6},{"x":8.05,"y":-2.9},{"x":8.25,"y":-3.1},{"x":8.45,"y":-2.8},{"x":8.65,"y":-3.4},{"x":8.8,"y":-2.8},{"x":9.05,"y":-3.0},{"x":9.25,"y":-3.3}]
},
"vconcat":[
{"width":1,"height":9,"data":{"values":[]},"mark":{"type":"point","opacity":0},"encoding":{},"view":{"stroke":null}},
{"hconcat":[
 {"width":112,"height":1,"data":{"values":[]},"mark":{"type":"point","opacity":0},"encoding":{},"view":{"stroke":null}},
 {"width":199,"height":201,
  "title":{"text":"A","dx":-100,"dy":12},
  "encoding":{
   "x":{"field":"x","type":"quantitative","scale":{"domain":[-5.58,1.95],"nice":false,"zero":false},"axis":{"values":[-5,-3,-2,-1,0,1],"labelExpr":"datum.value == -5 ? '0' : datum.value == -3 ? '0.001' : datum.value == -2 ? '0.01' : datum.value == -1 ? '0.1' : datum.value == 0 ? '1' : '10'","title":"Raw","titlePadding":1}},
   "y":{"field":"y","type":"quantitative","scale":{"domain":[-5.55,1.97],"nice":false,"zero":false},"axis":{"values":[-5,-3,-2,-1,0,1],"labelExpr":"datum.value == -5 ? '0' : datum.value == -3 ? '0.001' : datum.value == -2 ? '0.01' : datum.value == -1 ? '0.1' : datum.value == 0 ? '1' : '10'","title":"Computed","labelAngle":0,"labelAlign":"right","labelBaseline":"middle","labelPadding":3,"titlePadding":16}}
  },
  "layer":[
   {"data":{"values":[{"x":-5.58,"y":-5.58},{"x":1.97,"y":1.97}]},"mark":{"type":"line","color":"#111","strokeWidth":1,"clip":true}},
   {"data":{"name":"aR"},"mark":{"type":"point","shape":"circle","filled":false,"color":"#e8302e","size":10,"strokeWidth":0.8,"opacity":1}},
   {"data":{"name":"aK"},"mark":{"type":"circle","size":7,"color":"#111","opacity":1}},
   {"data":{"values":[{"x":-5.21,"y":1.38,"t":"r"},{"x":-5.21,"y":0.86,"t":"r"},{"x":-4.05,"y":1.38,"t":"= 0.62"},{"x":-3.57,"y":0.86,"t":"= 0.58"},{"x":-1.95,"y":-3.52,"t":"306 nonzero in both"},{"x":-1.95,"y":-3.99,"t":"172 nonzero in raw"},{"x":-1.95,"y":-4.5,"t":"8 nonzero in computed"}]},"mark":{"type":"text","fontSize":10,"align":"left","baseline":"middle","color":"#111"},"encoding":{"text":{"field":"t"}}},
   {"data":{"values":[{"x":-5.06,"y":1.55,"t":"2"},{"x":-5.06,"y":1.03,"t":"2"},{"x":-5.06,"y":1.24,"t":"with zeros"},{"x":-5.06,"y":0.72,"t":"without zeros"}]},"mark":{"type":"text","fontSize":6,"align":"left","baseline":"middle","color":"#111"},"encoding":{"text":{"field":"t"}}},
   {"data":{"values":[{"x":-3.97,"y":-5.55,"t":"//"},{"x":-5.58,"y":-4.05,"t":"//"}]},"mark":{"type":"text","fontSize":9,"align":"center","baseline":"middle","color":"#111"},"encoding":{"text":{"field":"t"}}}
  ]
 },
 {"width":96,"height":1,"data":{"values":[]},"mark":{"type":"point","opacity":0},"encoding":{},"view":{"stroke":null}},
 {"vconcat":[
  {"width":1,"height":6,"data":{"values":[]},"mark":{"type":"point","opacity":0},"encoding":{},"view":{"stroke":null}},
  {"width":315,"height":196,
   "title":{"text":"B","dx":-34,"dy":6},
   "data":{"name":"bB"},
   "mark":{"type":"bar","stroke":"#111","strokeWidth":0.7},
   "encoding":{
    "x":{"field":"l","type":"quantitative","scale":{"domain":[-5.22,1.31],"nice":false,"zero":false},"axis":{"values":[-4,-3,-2,-1,0,1],"labelExpr":"datum.value == -4 ? '0.0001' : datum.value == -3 ? '0.001' : datum.value == -2 ? '0.01' : datum.value == -1 ? '0.1' : datum.value == 0 ? '1' : '10'","title":"Strength","labelPadding":3,"titlePadding":1}},
    "x2":{"field":"h"},
    "y":{"field":"v","type":"quantitative","scale":{"domain":[-5.3,130.8],"nice":false,"zero":false},"axis":{"values":[0,20,40,60,80,100,120],"title":"Frequency","labelPadding":6,"titlePadding":4}},
    "y2":{"datum":0},
    "color":{"field":"s","type":"nominal","scale":{"domain":["c","r","w"],"range":["#e8302e","#3352a5","#ffffff"]},"legend":{"title":null,"legendX":6,"legendY":17,"strokeColor":null,"fillColor":null,"padding":0,"rowPadding":2.5,"labelExpr":"datum.label == 'c' ? 'Oh et al. 2014 computed (n=314)' : datum.label == 'r' ? 'Oh et al. 2014 raw data (n=478)' : 'Oh et al. 2014 raw data not present in the computed data (n=172)'"}}
   }
  }
 ],"spacing":0,"bounds":"flush"}
],"spacing":0,"bounds":"flush","resolve":{"scale":{"color":"independent"},"legend":{"color":"independent"}}},
{"width":1,"height":248,"data":{"values":[]},"mark":{"type":"point","opacity":0},"encoding":{},"view":{"stroke":null}},
{"hconcat":[
 {"width":43,"height":1,"data":{"values":[]},"mark":{"type":"point","opacity":0},"encoding":{},"view":{"stroke":null}},
 {"width":310,"height":191,
  "title":{"text":"C","dx":-31,"dy":1},
  "data":{"name":"bC"},
  "mark":{"type":"bar","stroke":"#111","strokeWidth":0.7},
  "encoding":{
   "x":{"field":"l","type":"quantitative","scale":{"domain":[-6.27,1.19],"nice":false,"zero":false},"axis":{"values":[-5,-4,-3,-2,-1,0,1],"title":"log₁₀(Strength)"}},
   "x2":{"field":"h"},
   "y":{"field":"v","type":"quantitative","scale":{"domain":[-1.2,30.8],"nice":false,"zero":false},"axis":{"values":[0,5,10,15,20,25,30],"title":"Frequency","labelPadding":3,"titlePadding":6}},
   "y2":{"datum":0},
   "color":{"field":"s","type":"nominal","scale":{"domain":["a","b"],"range":["#e8302e","#b9bbbe"]},"legend":{"title":null,"legendX":9,"legendY":4,"labelExpr":"datum.label == 'a' ? 'Oh et al. 2014 computed (n = 87)' : 'Present study (n = 142)'"}}
  }
 },
 {"width":54,"height":1,"data":{"values":[]},"mark":{"type":"point","opacity":0},"encoding":{},"view":{"stroke":null}},
 {"width":315,"height":192,
  "title":{"text":"D","dx":-35,"dy":2},
  "layer":[
   {"data":{"name":"bD"},"mark":{"type":"bar","stroke":"#111","strokeWidth":0.7},
    "encoding":{
     "x":{"field":"l","type":"quantitative","scale":{"domain":[-6.34,1.27],"nice":false,"zero":false},"axis":{"values":[-5,-4,-3,-2,-1,0,1],"title":"log₁₀(Strength)"}},
     "x2":{"field":"h"},
     "y":{"field":"v","type":"quantitative","scale":{"domain":[-1.2,35.6],"nice":false,"zero":false},"axis":{"values":[0,5,10,15,20,25,30,35],"title":"Frequency","labelPadding":3,"titlePadding":6}},
     "y2":{"datum":0},
     "color":{"field":"s","type":"nominal","scale":{"domain":["a","b"],"range":["#e8302e","#b9bbbe"]},"legend":{"title":null,"legendX":136,"legendY":4,"labelExpr":"datum.label == 'a' ? 'Oh et al. 2014 computed (n = 85)' : 'Present study (n = 85)'"}}
    }},
   {"encoding":{
     "x":{"field":"x","type":"quantitative","scale":{"domain":[-7.43,16.2],"nice":false,"zero":false},"axis":{"orient":"bottom","offset":-96,"values":[-5,-3,-1],"labelExpr":"'1e−0' + abs(datum.value)","title":null,"tickSize":3,"labelFontSize":7.5,"labelPadding":1,"zindex":1}},
     "y":{"field":"y","type":"quantitative","scale":{"domain":[-13.08,1.47],"nice":false,"zero":false},"axis":{"orient":"left","offset":-23,"values":[-5,-3,-1],"labelExpr":"'1e−0' + abs(datum.value)","title":null,"tickSize":3,"labelFontSize":7.5,"labelPadding":0,"zindex":1}}
    },
    "layer":[
     {"data":{"values":[{"x":-5.7,"x2":1.3,"y":-5.78,"y2":0.84}]},"mark":{"type":"rect","fill":"#fff","stroke":"#333","strokeWidth":1},"encoding":{"x2":{"field":"x2"},"y2":{"field":"y2"}}},
     {"data":{"values":[{"x":-5.7,"y":-4.72},{"x":-0.02,"y":0.84}]},"mark":{"type":"line","color":"#111","strokeWidth":1}},
     {"data":{"name":"dI"},"mark":{"type":"circle","size":14,"color":"#111","opacity":1}},
     {"data":{"values":[{"x":-1.87,"y":-4.52,"t":"r² = 0.03"},{"x":-2.08,"y":-7.3,"t":"Present Study"}]},"mark":{"type":"text","fontSize":7.5,"color":"#111","baseline":"middle"},"encoding":{"text":{"field":"t"}}},
     {"data":{"values":[{"x":-6.83,"y":-3.13,"t":"Computed"}]},"mark":{"type":"text","fontSize":7.5,"angle":270,"color":"#111","baseline":"middle"},"encoding":{"text":{"field":"t"}}}
    ]}
  ],
  "resolve":{"scale":{"x":"independent","y":"independent"}}
 }
],"spacing":0,"bounds":"flush","resolve":{"scale":{"color":"independent"},"legend":{"color":"independent"}}},
{"width":1,"height":236,"data":{"values":[]},"mark":{"type":"point","opacity":0},"encoding":{},"view":{"stroke":null}},
{"hconcat":[
 {"width":43,"height":1,"data":{"values":[]},"mark":{"type":"point","opacity":0},"encoding":{},"view":{"stroke":null}},
 {"width":310,"height":193,
  "title":{"text":"E","dx":-31,"dy":-1},
  "layer":[
   {"data":{"name":"bE"},"mark":{"type":"bar","stroke":"#111","strokeWidth":0.7},
    "encoding":{
     "x":{"field":"l","type":"quantitative","scale":{"domain":[-6.27,1.19],"nice":false,"zero":false},"axis":{"values":[-5,-4,-3,-2,-1,0,1],"title":"log₁₀(Strength)"}},
     "x2":{"field":"h"},
     "y":{"field":"v","type":"quantitative","scale":{"domain":[-0.25,6.74],"nice":false,"zero":false},"axis":{"values":[0,1,2,3,4,5,6],"title":"Frequency","labelPadding":3,"titlePadding":6}},
     "y2":{"datum":0},
     "color":{"field":"s","type":"nominal","scale":{"domain":["a","b"],"range":["#3352a5","#b9bbbe"]},"legend":{"title":null,"legendX":135,"legendY":5,"labelExpr":"datum.label == 'a' ? 'Oh et al. 2014 raw data (n = 19)' : 'Present study (n = 19)'"}}
    }},
   {"encoding":{
     "x":{"field":"x","type":"quantitative","scale":{"domain":[-7.14,14.24],"nice":false,"zero":false},"axis":{"orient":"bottom","offset":-88,"values":[-5,-3,-1],"labelExpr":"'1e−0' + abs(datum.value)","title":null,"tickSize":3,"labelFontSize":7.5,"labelPadding":1,"zindex":1}},
     "y":{"field":"y","type":"quantitative","scale":{"domain":[-11.87,1.0],"nice":false,"zero":false},"axis":{"orient":"left","offset":-21,"values":[-5,-3,-1],"labelExpr":"'1e−0' + abs(datum.value)","title":null,"tickSize":3,"labelFontSize":7.5,"labelPadding":0,"zindex":1}}
    },
    "layer":[
     {"data":{"values":[{"x":-5.67,"x2":0.86,"y":-6.0,"y2":0.22}]},"mark":{"type":"rect","fill":"#fff","stroke":"#333","strokeWidth":1},"encoding":{"x2":{"field":"x2"},"y2":{"field":"y2"}}},
     {"data":{"values":[{"x":-5.67,"y":-5.11},{"x":0.01,"y":0.22}]},"mark":{"type":"line","color":"#111","strokeWidth":1}},
     {"data":{"name":"eI"},"mark":{"type":"circle","size":14,"color":"#111","opacity":1}},
     {"data":{"values":[{"x":-1.48,"y":-4.98,"t":"r²=0.49"},{"x":-2.4,"y":-7.2,"t":"Present Study"}]},"mark":{"type":"text","fontSize":7.5,"color":"#111","baseline":"middle"},"encoding":{"text":{"field":"t"}}},
     {"data":{"values":[{"x":-6.66,"y":-2.49,"t":"Computed"}]},"mark":{"type":"text","fontSize":7.5,"angle":270,"color":"#111","baseline":"middle"},"encoding":{"text":{"field":"t"}}}
    ]}
  ],
  "resolve":{"scale":{"x":"independent","y":"independent"}}
 },
 {"width":60,"height":1,"data":{"values":[]},"mark":{"type":"point","opacity":0},"encoding":{},"view":{"stroke":null}},
 {"width":309,"height":193,
  "title":{"text":"F","dx":-41,"dy":0},
  "data":{"name":"bF"},
  "mark":{"type":"bar","stroke":"#111","strokeWidth":0.7},
  "encoding":{
   "x":{"field":"l","type":"quantitative","scale":{"domain":[-6.22,1.25],"nice":false,"zero":false},"axis":{"values":[-5,-4,-3,-2,-1,0,1],"title":"log₁₀(Strength)"}},
   "x2":{"field":"h"},
   "y":{"field":"v","type":"quantitative","scale":{"domain":[-10.3,218],"nice":false,"zero":false},"axis":{"values":[0,50,100,150,200],"title":"Frequency","labelPadding":6,"titlePadding":8}},
   "y2":{"datum":0},
   "color":{"field":"s","type":"nominal","scale":{"domain":["a","b"],"range":["#3352a5","#b9bbbe"]},"legend":{"title":null,"legendX":7,"legendY":6,"labelExpr":"datum.label == 'a' ? 'Oh et al. 2014 raw all (n = 503)' : 'Present study all (n = 852)'"}}
  }
 }
],"spacing":0,"bounds":"flush","resolve":{"scale":{"color":"independent"},"legend":{"color":"independent"}}},
{"width":1,"height":231,"data":{"values":[]},"mark":{"type":"point","opacity":0},"encoding":{},"view":{"stroke":null}},
{"hconcat":[
 {"width":72,"height":1,"data":{"values":[]},"mark":{"type":"point","opacity":0},"encoding":{},"view":{"stroke":null}},
 {"width":187,"height":117,
  "title":{"text":"G","dx":-60,"dy":19},
  "encoding":{
   "x":{"field":"x","type":"quantitative","scale":{"domain":[-0.3,11.55],"nice":false,"zero":false},"axis":{"values":[0,2,4,6,8,10],"title":"distance (mm)","labelFontSize":9.5,"titlePadding":0}},
   "y":{"field":"y","type":"quantitative","scale":{"domain":[-4.15,1.5],"nice":false,"zero":false},"axis":{"values":[-4,-2,0],"labelExpr":"datum.value == 0 ? '1e+00' : '1e−0' + abs(datum.value)","title":"Strength","labelFontSize":9.5,"labelPadding":6,"titlePadding":4}}
  },
  "layer":[
   {"data":{"name":"gB"},"mark":{"type":"circle","size":5,"color":"#4a5fc1","opacity":1}},
   {"data":{"name":"gR"},"mark":{"type":"circle","size":5,"color":"#f0302e","opacity":1}},
   {"data":{"values":[{"x":-0.3,"y":-0.21},{"x":11.55,"y":-3.23}]},"mark":{"type":"line","color":"#4a64c8","strokeWidth":1}},
   {"data":{"values":[{"x":-0.3,"y":-0.61},{"x":11.55,"y":-2.11}]},"mark":{"type":"line","color":"#f03030","strokeWidth":1}},
   {"data":{"values":[{"x":11.24,"y":1.28,"t":"lambda = −0.60 (raw data from unmixed inj.)"}]},"mark":{"type":"text","fontSize":8,"align":"right","baseline":"middle","color":"#4a64c8"},"encoding":{"text":{"field":"t"}}},
   {"data":{"values":[{"x":11.24,"y":0.84,"t":"lambda = −0.30 (all computed data)"}]},"mark":{"type":"text","fontSize":8,"align":"right","baseline":"middle","color":"#f03030"},"encoding":{"text":{"field":"t"}}},
   {"data":{"values":[{"x":-0.04,"y":-3.28,"t":"n = 478"}]},"mark":{"type":"text","fontSize":8,"align":"left","baseline":"middle","color":"#4a64c8"},"encoding":{"text":{"field":"t"}}},
   {"data":{"values":[{"x":-0.04,"y":-3.65,"t":"n = 744"}]},"mark":{"type":"text","fontSize":8,"align":"left","baseline":"middle","color":"#f03030"},"encoding":{"text":{"field":"t"}}}
  ]
 },
 {"width":82,"height":1,"data":{"values":[]},"mark":{"type":"point","opacity":0},"encoding":{},"view":{"stroke":null}},
 {"width":382,"height":236,
  "title":{"text":"I","dx":-39,"dy":16},
  "data":{"name":"bI"},
  "mark":{"type":"bar","stroke":"#111","strokeWidth":0.7},
  "encoding":{
   "x":{"field":"l","type":"quantitative","scale":{"domain":[-5.24,1.23],"nice":false,"zero":false},"axis":{"values":[-5,-4,-3,-2,-1,0,1],"title":"log₁₀(Strength)","labelPadding":4,"titlePadding":3}},
   "x2":{"field":"h"},
   "y":{"field":"v","type":"quantitative","scale":{"domain":[-4,104.6],"nice":false,"zero":false},"axis":{"values":[0,20,40,60,80,100],"title":"Frequency","labelPadding":3,"titlePadding":6}},
   "y2":{"datum":0},
   "color":{"field":"s","type":"nominal","scale":{"domain":["a","b"],"range":["#3352a5","#eeea2a"]},"legend":{"title":null,"legendX":13,"legendY":5,"labelExpr":"datum.label == 'a' ? 'Oh et al. 2014, Nature: cortico−cortical projections (n = 503)' : ['Oh et al. 2014, Nature: labeling in cortex after injections in', 'basal ganglia,  superior colliculus and pontine nucleus (n=187)']"}}
  }
 }
],"spacing":0,"bounds":"flush","resolve":{"scale":{"color":"independent"},"legend":{"color":"independent"}}},
{"width":1,"height":152,"data":{"values":[]},"mark":{"type":"point","opacity":0},"encoding":{},"view":{"stroke":null}},
{"hconcat":[
 {"width":70,"height":1,"data":{"values":[]},"mark":{"type":"point","opacity":0},"encoding":{},"view":{"stroke":null}},
 {"width":187,"height":112,
  "title":{"text":"H","dx":-58,"dy":17},
  "encoding":{
   "x":{"field":"x","type":"quantitative","scale":{"domain":[-0.38,11.5],"nice":false,"zero":false},"axis":{"values":[0,2,4,6,8,10],"title":"distance (mm)","labelFontSize":9.5,"titlePadding":0}},
   "y":{"field":"y","type":"quantitative","scale":{"domain":[-6.29,0.17],"nice":false,"zero":false},"axis":{"values":[-6,-4,-2,0],"labelExpr":"datum.value == 0 ? '1e+00' : '1e−0' + abs(datum.value)","title":"Strength","labelFontSize":9.5,"labelPadding":4,"titlePadding":3}}
  },
  "layer":[
   {"data":{"name":"hK"},"mark":{"type":"circle","size":5,"color":"#111","opacity":1}},
   {"data":{"values":[{"x":-0.38,"y":-1.26},{"x":11.5,"y":-4.73}]},"mark":{"type":"line","color":"#111","strokeWidth":1}},
   {"data":{"values":[{"x":11.02,"y":-0.17,"t":"lambda = −0.68 (present study)"},{"x":11.02,"y":-0.71,"t":"n = 852"}]},"mark":{"type":"text","fontSize":8,"align":"right","baseline":"middle","color":"#111"},"encoding":{"text":{"field":"t"}}}
  ]
 }
],"spacing":0,"bounds":"flush"}
]
}
